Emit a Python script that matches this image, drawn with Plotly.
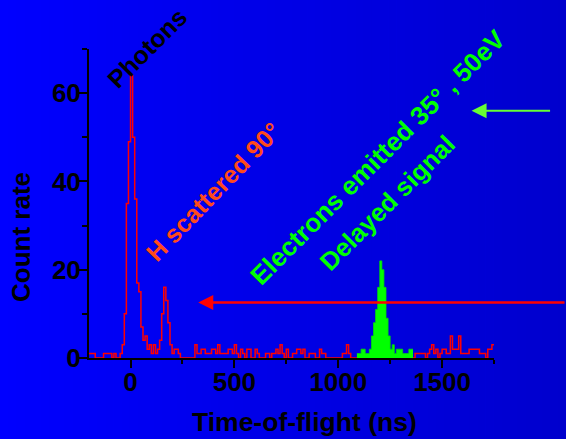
import plotly.graph_objects as go

# ---------------- data (counts per 10 ns bin) ----------------
BIN_NS = 10

red_early_start = -200
red_early_counts = [
    1, 1, 1, 0, 0, 0, 0, 1, 1, 1,        # -200 .. -110
    1, 0, 1, 0, 0, 1, 3, 10, 35, 49,     # -100 .. -10
    64, 50, 36, 17, 15, 7, 4, 5, 2, 3,   # 0 .. 90
    1, 3, 1, 2, 4, 10, 16, 13, 8, 3,     # 100 .. 190
    1, 2, 2, 1, 0, 0, 0, 0, 0, 0,        # 200 .. 290
    0, 3, 1, 1, 2, 2, 1, 1, 1, 2,        # 300 .. 390
    2, 1, 3, 1, 1, 1, 1, 2, 2, 1,        # 400 .. 490
    3, 1, 0, 2, 1, 0, 2, 2, 0, 0,        # 500 .. 590
    2, 1, 0, 0, 0, 1, 1, 0, 1, 1,        # 600 .. 690
    2, 1, 3, 1, 0, 2, 0, 0, 1, 1,        # 700 .. 790
    2, 2, 1, 2, 0, 0, 1, 1, 1, 0,        # 800 .. 890
    0, 2, 1, 1, 0, 0, 0, 0, 0, 0,        # 900 .. 990
    0, 0, 1, 1, 3, 1, 0, 0, 0,           # 1000 .. 1080
]

green_start = 1090
green_counts = [
    1, 1, 2, 2, 1, 1, 2, 5, 8, 11,       # 1090 .. 1180
    16, 22, 20, 16, 9, 5, 2, 3, 1, 2,    # 1190 .. 1280
    2, 2, 1, 1, 1, 2, 2,                 # 1290 .. 1350
]

red_late_start = 1360
red_late_counts = [
    0, 1, 1, 1, 1, 1, 0, 1, 2, 3,        # 1360 .. 1450
    1, 2, 0, 1, 2, 2, 1, 1, 5, 2,        # 1460 .. 1550
    2, 2, 5, 1, 1, 1, 1, 2, 2, 2,        # 1560 .. 1650
    2, 2, 1, 1, 1, 0, 2, 2, 3,           # 1660 .. 1740
]

x_ticks = [0, 500, 1000, 1500]
y_ticks = [0, 20, 40, 60]
x_range = [-200, 1750]
y_range = [0, 70]


def step_xy(start, counts):
    xs = [start + i * BIN_NS for i in range(len(counts) + 1)]
    ys = list(counts) + [counts[-1]]
    return xs, ys


# ---------------- geometry helpers ----------------
W, H = 566, 439
ML, MR, MT, MB = 89, 72, 49, 81
PL, PR, PT, PB = ML, W - MR, MT, H - MB


def pxp(x):
    return (x - PL) / (PR - PL)


def pyp(y):
    return (PB - y) / (PB - PT)


FONT = "Liberation Sans, Arial, Helvetica, sans-serif"

fig = go.Figure()

rx, ry = step_xy(red_early_start, red_early_counts)
fig.add_trace(go.Scatter(x=rx, y=ry, mode="lines", line=dict(color="#ff0000", width=1.5, shape="hv"),
                         hoverinfo="skip", showlegend=False))
gx, gy = step_xy(green_start, green_counts)
fig.add_trace(go.Scatter(x=gx, y=gy, mode="lines", fill="tozeroy", fillcolor="#00ff00",
                         line=dict(color="#00e000", width=0.8, shape="hv"),
                         hoverinfo="skip", showlegend=False))
lx, ly = step_xy(red_late_start, red_late_counts)
fig.add_trace(go.Scatter(x=lx, y=ly, mode="lines", line=dict(color="#ff0000", width=1.5, shape="hv"),
                         hoverinfo="skip", showlegend=False))

# background gradient (left bright blue -> right darker blue)
shapes = []
N = 70
for i in range(N):
    x0 = i * W / N
    x1 = (i + 1) * W / N + 0.6
    b = int(round(255 - 50 * (i + 0.5) / N))
    shapes.append(dict(type="rect", xref="paper", yref="paper", layer="below",
                       x0=pxp(x0), x1=pxp(x1), y0=pyp(H), y1=pyp(0),
                       line=dict(width=0), fillcolor=f"rgb(0,0,{b})"))

annotations = []


def label(text, cx, cy, color, size, angle):
    annotations.append(dict(text=text, xref="paper", yref="paper", x=pxp(cx), y=pyp(cy),
                            xanchor="center", yanchor="middle", showarrow=False, textangle=angle,
                            font=dict(family=FONT, size=size, color=color, weight="bold")))


label("Photons", 147, 48, "#000000", 25, -45)
label("H scattered 90°", 213, 192, "#ff4a1a", 25, -46)
label("Electrons emitted 35° , 50eV", 378, 157, "#00ff00", 26, -45)
label("Delayed signal", 387, 203, "#00ff00", 25.5, -45)
label("Time-of-flight (ns)", 304, 422, "#000000", 26.5, 0)
label("Count rate", 21, 237, "#000000", 26, -90)

# arrows
annotations.append(dict(x=326, y=12.6, xref="x", yref="y", text="", showarrow=True,
                        ax=368, ay=0, arrowhead=2, arrowsize=1.2, arrowwidth=2.5,
                        arrowcolor="#ff0000", standoff=0))
annotations.append(dict(x=1642, y=56, xref="x", yref="y", text="", showarrow=True,
                        ax=80, ay=0, arrowhead=2, arrowsize=1.5, arrowwidth=2,
                        arrowcolor="#66ff33", standoff=0))

tickfont = dict(family=FONT, size=26, color="#000000", weight="bold")

fig.update_layout(
    width=W, height=H,
    margin=dict(l=ML, r=MR, t=MT, b=MB, pad=0),
    paper_bgcolor="#0000ff",
    plot_bgcolor="rgba(0,0,0,0)",
    shapes=shapes,
    annotations=annotations,
    showlegend=False,
    xaxis=dict(range=x_range, tickvals=x_ticks, ticks="outside", ticklen=8, tickwidth=2,
               tickcolor="#000000", showline=True, linewidth=2, linecolor="#000000",
               showgrid=False, zeroline=False, tickfont=tickfont, ticklabelstandoff=-8,
               minor=dict(dtick=250, tick0=0, ticks="outside", ticklen=4, tickwidth=2,
                          tickcolor="#000000", showgrid=False)),
    yaxis=dict(range=y_range, tickvals=y_ticks, ticks="outside", ticklen=9, tickwidth=2,
               tickcolor="#000000", showline=True, linewidth=2, linecolor="#000000",
               showgrid=False, zeroline=False, tickfont=tickfont, ticklabelstandoff=-8,
               minor=dict(dtick=10, tick0=0, ticks="outside", ticklen=5, tickwidth=2,
                          tickcolor="#000000", showgrid=False)),
)

fig.write_html("out.html", config={"displayModeBar": False},
               post_script="document.body.style.margin='0';document.body.style.overflow='hidden';")
